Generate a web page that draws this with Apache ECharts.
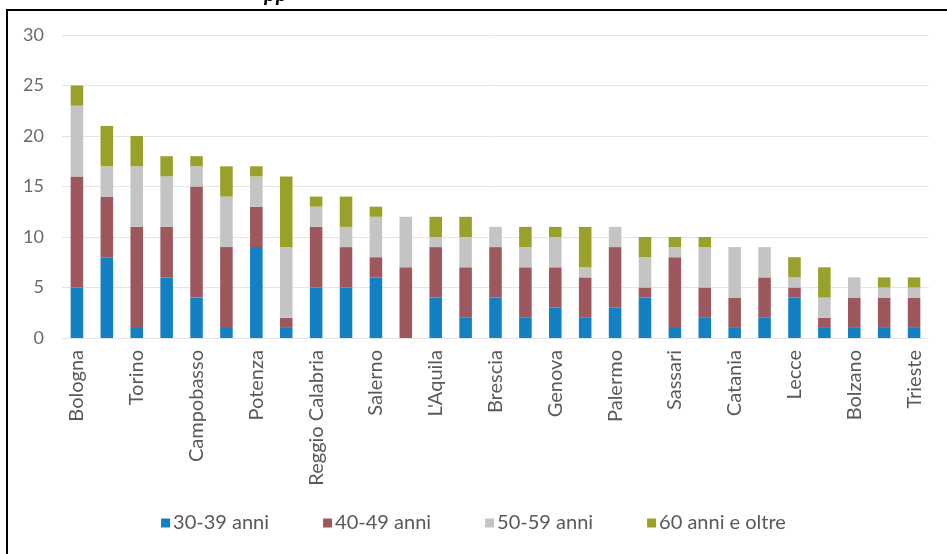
<!DOCTYPE html>
<html><head><meta charset="utf-8">
<script src="https://cdn.jsdelivr.net/npm/echarts@6/dist/echarts.min.js"></script>
<style>html,body{margin:0;padding:0;background:#fff}#c{width:947px;height:554px}</style>
</head><body><div id="c"></div>
<script>
const categories = ['Bologna','Milano','Torino','Roma','Campobasso','Napoli','Potenza','Firenze','Reggio Calabria','Bari','Salerno','Venezia',"L'Aquila",'Verona','Brescia','Padova','Genova','Cagliari','Palermo','Perugia','Sassari','Ancona','Catania','Pescara','Lecce','Trento','Bolzano','Pisa','Trieste'];
const seriesNames = ['30-39 anni','40-49 anni','50-59 anni','60 anni e oltre'];
const age30_39 = [5,8,1,6,4,1,9,1,5,5,6,0,4,2,4,2,3,2,3,4,1,2,1,2,4,1,1,1,1];
const age40_49 = [11,6,10,5,11,8,4,1,6,4,2,7,5,5,5,5,4,4,6,1,7,3,3,4,1,1,3,3,3];
const age50_59 = [7,3,6,5,2,5,3,7,2,2,4,5,1,3,2,2,3,1,2,3,1,4,5,3,1,2,2,1,1];
const age60plus = [2,4,3,2,1,3,1,7,1,3,1,0,2,2,0,2,1,4,0,2,1,1,0,0,2,3,0,1,1];
const yTicks = [0,5,10,15,20,25,30];

const colors = ['#1380c4','#9c585c','#c4c4c4','#9aa12b'];
const values = [age30_39, age40_49, age50_59, age60plus];
const FONT = 'Lato';

const chart = echarts.init(document.getElementById('c'), null, {renderer:'canvas'});
chart.setOption({
  animation:false,
  backgroundColor:'#fff',
  textStyle:{fontFamily:FONT},
  grid:{left:62, right:18, top:35, bottom:216, containLabel:false},
  legend:{
    data:seriesNames, bottom:16, left:'center', itemWidth:9, itemHeight:9, itemGap:54,
    icon:'rect',
    textStyle:{fontFamily:FONT, fontSize:20, color:'#595959', padding:[0,0,0,-2]}
  },
  xAxis:{
    type:'category', data:categories,
    axisLine:{show:false}, axisTick:{show:false},
    axisLabel:{rotate:90, interval:1, fontFamily:FONT, fontSize:20, color:'#595959', margin:12}
  },
  yAxis:{
    type:'value', min:yTicks[0], max:yTicks[yTicks.length-1], interval:5,
    axisLine:{show:false}, axisTick:{show:false},
    axisLabel:{fontFamily:FONT, fontSize:18, color:'#6a6a6a', margin:18},
    splitLine:{lineStyle:{color:'#e4e4e4', width:1}}
  },
  series: seriesNames.map((n,i)=>({
    name:n, type:'bar', stack:'tot', barWidth:'42%',
    itemStyle:{color:colors[i]}, data:values[i]
  })),
  graphic:[
    {type:'polyline', shape:{points:[[7,554],[7,10],[947,10]]}, style:{stroke:'#000', lineWidth:2, fill:null}, z:100},
    {type:'text', x:264, y:5, style:{text:'pp', font:'italic bold 22px '+FONT, fill:'#000', verticalAlign:'bottom'}, z:100}
  ]
});
</script></body></html>
